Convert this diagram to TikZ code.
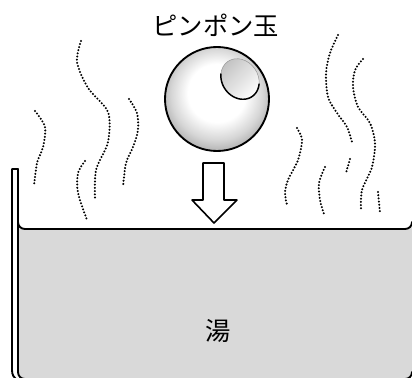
\documentclass[tikz,border=0pt]{standalone}
\usepackage{fontspec}
\setmainfont{Noto Sans CJK JP}
\usetikzlibrary{calc}
\definecolor{aguagris}{RGB}{217, 217, 217}
\pgfdeclareradialshading{pelota}{\pgfpoint{0bp}{4bp}}{color(0bp)=(white); color(14bp)=(white); color(22bp)=(black!16); color(27bp)=(black!30); color(50bp)=(black!30)}

\begin{document}
\begin{tikzpicture}[
                x=0.75pt, y=-0.75pt,
                pared/.style={
                    line width=1.4pt,
                    line join=round,
                    line cap=round
                },
                vapor/.style={
                    line width=1.7pt,
                    line cap=round,
                    dash pattern=on 0pt off 2.4pt
                },
                rotulo/.style={
                    font=\fontsize{19}{19}\selectfont,
                    inner sep=0pt
                }
            ]
                \useasboundingbox (0,0) rectangle (412,378);

                \fill[aguagris] (18,222) .. controls (18,226) and (21,229) .. (25,229) -- (405,229)
                    .. controls (409,229) and (412,226) .. (412,222) -- (412,372)
                    .. controls (412,376) and (409,379) .. (405,379) -- (25,379)
                    .. controls (21,379) and (18,376) .. (18,372) -- cycle;
                \draw[pared] (18,222) .. controls (18,226) and (21,229) .. (25,229) -- (405,229)
                    .. controls (409,229) and (412,226) .. (412,222);
                \draw[pared] (412,372) .. controls (412,376) and (409,379) .. (405,379);
                \draw[pared] (18,169) -- (18,372) .. controls (18,376) and (21,379) .. (25,379);
                \draw[pared] (18,169) -- (12,169) -- (12,370) .. controls (12,375) and (14,378) .. (17,380);

                \draw[vapor] plot[smooth] coordinates {(81,41) (77,62) (88,88) (108,112) (108,142) (96,170) (95,200)};
                \draw[vapor] plot[smooth] coordinates {(35,111) (45,127) (43,147) (37,163) (34,186)};
                \draw[vapor] plot[smooth] coordinates {(85,161) (78,173) (78,193) (87,220)};
                \draw[vapor] plot[smooth] coordinates {(129,99) (137,113) (138,130) (133,147) (126,163) (123,187)};
                \draw[vapor] plot[smooth] coordinates {(338,35) (330,53) (326,73) (328,97) (337,113) (347,127) (352,142)};
                \draw[vapor] plot[smooth] coordinates {(350,159) (346,173)};
                \draw[vapor] plot[smooth] coordinates {(363,59) (355,70) (353,87) (358,107) (370,123) (375,143) (372,167) (362,190) (361,210)};
                \draw[vapor] plot[smooth] coordinates {(297,128) (302,140) (298,160) (288,180) (285,193) (287,205)};
                \draw[vapor] plot[smooth] coordinates {(325,167) (319,183) (320,200) (324,214)};
                \draw[vapor] plot[smooth] coordinates {(378,192) (380,213)};

                \shade[shading=pelota] (217,99) circle[radius=39pt];
                \draw[pared] (217,99) circle[radius=39pt];
                \shade[top color=black!24, bottom color=white, shading angle=45, draw=black!40, line width=0.4pt]
                    (240,79) ellipse[x radius=16pt, y radius=13.5pt, rotate=-55];
                \draw[line width=1.1pt, line cap=round] plot[domain=-45:135, samples=40, smooth]
                    ({240+21.3*cos(\x)*0.574-18*sin(\x)*0.819}, {79+21.3*cos(\x)*0.819+18*sin(\x)*0.574});

                \draw[pared, fill=white, line width=1.2pt] (203,163) -- (224,163) -- (224,200) -- (237,200)
                    -- (214,223) -- (192,200) -- (203,200) -- cycle;

                \node[rotulo] (pelota) at (216,25) {ピンポン玉};
                \node[rotulo] (yu) at (218,331) {湯};
            \end{tikzpicture}
\end{document}
